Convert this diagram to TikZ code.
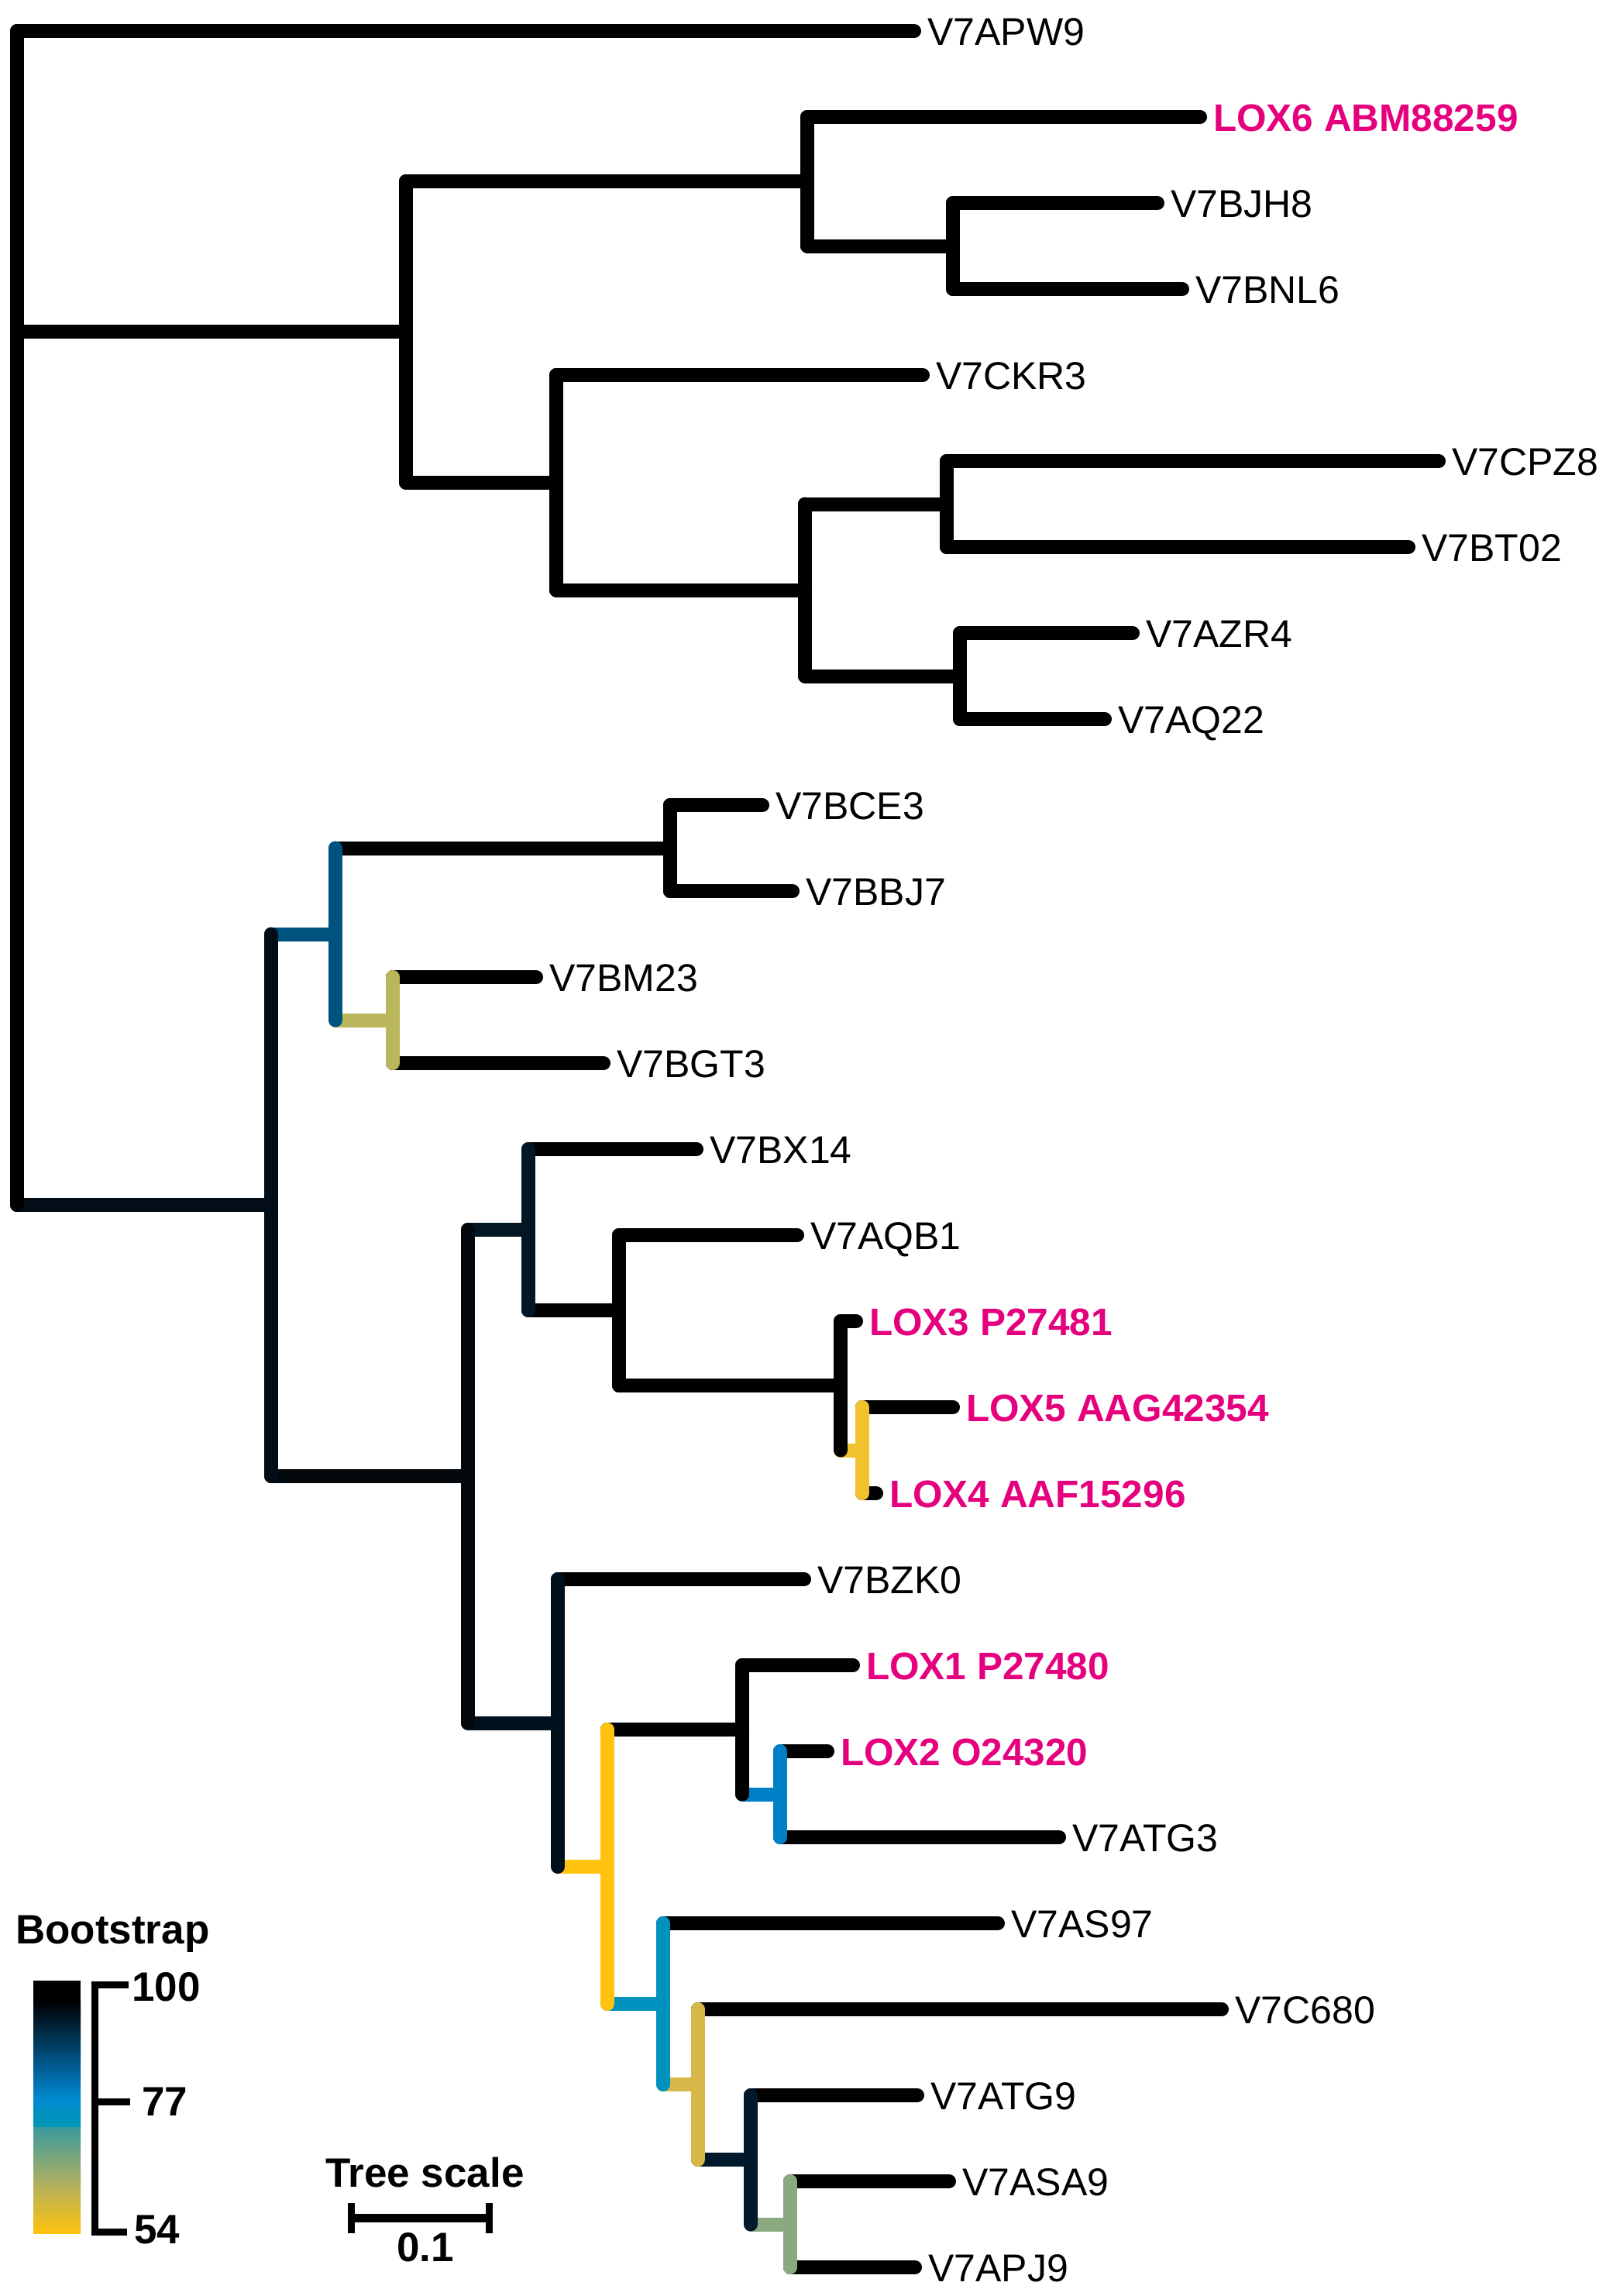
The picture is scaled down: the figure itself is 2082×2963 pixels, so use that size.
\documentclass[tikz,border=0pt]{standalone}
\usepackage{fontspec}
\setmainfont{Liberation Sans}
\definecolor{lox}{HTML}{E5007D}
\definecolor{cB}{HTML}{020D18}
\definecolor{cBone}{HTML}{00537E}
\definecolor{cBoneb}{HTML}{B9B65C}
\definecolor{cBtwo}{HTML}{03080D}
\definecolor{cC}{HTML}{021624}
\definecolor{cCfour}{HTML}{F2C12E}
\definecolor{cD}{HTML}{000F1C}
\definecolor{cE}{HTML}{FFC20E}
\definecolor{cFtwo}{HTML}{0080C6}
\definecolor{cG}{HTML}{0092BE}
\definecolor{cH}{HTML}{D9B84A}
\definecolor{cI}{HTML}{001A2B}
\definecolor{cJ}{HTML}{8AA981}
\definecolor{gA}{HTML}{004A78}
\definecolor{gB}{HTML}{0088D0}
\definecolor{gC}{HTML}{0098B4}
\definecolor{gD}{HTML}{3A9A9C}
\definecolor{gE}{HTML}{B0B060}
\definecolor{gF}{HTML}{FFC20E}
\tikzset{
  br/.style={line width=18pt, line cap=round, draw=black},
  lab/.style={anchor=base west, inner sep=0pt, font=\fontsize{50}{60}\selectfont},
  loxlab/.style={lab, text=lox, font=\fontsize{49.5}{60}\selectfont\bfseries},
  leg/.style={anchor=base west, inner sep=0pt, font=\fontsize{53}{63}\selectfont\bfseries},
  legline/.style={line width=9pt, line cap=butt, line join=miter}
}
\begin{document}
\begin{tikzpicture}[x=1pt,y=-1pt]
\useasboundingbox (0,0) rectangle (2082,2963);
% internal nodes
\coordinate (nR)    at (22,40);
\coordinate (nRb)   at (22,1555);
\coordinate (nA)    at (524,428.4);
\coordinate (nA1)   at (1042,234);
\coordinate (nA1b)  at (1230,317.5);
\coordinate (nA2)   at (718,622.75);
\coordinate (nA2b)  at (1039,761.5);
\coordinate (nA2b1) at (1222,650.5);
\coordinate (nA2b2) at (1239,872.5);
\coordinate (nB)    at (350,1555);
\coordinate (nB1)   at (433,1205.5);
\coordinate (nB1a)  at (865,1094.5);
\coordinate (nB1b)  at (507,1316.5);
\coordinate (nB2)   at (604,1905);
\coordinate (nC)    at (682,1587);
\coordinate (nC2)   at (799,1691);
\coordinate (nC3)   at (1085,1788);
\coordinate (nC4)   at (1113,1871.5);
\coordinate (nD)    at (720,2223.5);
\coordinate (nE)    at (784,2409);
\coordinate (nF)    at (958,2232);
\coordinate (nF2)   at (1007,2315.5);
\coordinate (nG)    at (856,2586);
\coordinate (nH)    at (901,2690);
\coordinate (nI)    at (969,2787);
\coordinate (nJ)    at (1020,2870.5);
% leaf ends
\coordinate (l0)  at (1180,40);
\coordinate (l1)  at (1549,151);
\coordinate (l2)  at (1494,262);
\coordinate (l3)  at (1526,373);
\coordinate (l4)  at (1191,484);
\coordinate (l5)  at (1857,595);
\coordinate (l6)  at (1818,706);
\coordinate (l7)  at (1462,817);
\coordinate (l8)  at (1426,928);
\coordinate (l9)  at (984,1039);
\coordinate (l10) at (1023,1150);
\coordinate (l11) at (692,1261);
\coordinate (l12) at (779,1372);
\coordinate (l13) at (899,1483);
\coordinate (l14) at (1029,1594);
\coordinate (l15) at (1105,1705);
\coordinate (l16) at (1230,1816);
\coordinate (l17) at (1131,1927);
\coordinate (l18) at (1038,2038);
\coordinate (l19) at (1101,2149);
\coordinate (l20) at (1068,2260);
\coordinate (l21) at (1367,2371);
\coordinate (l22) at (1288,2482);
\coordinate (l23) at (1577,2593);
\coordinate (l24) at (1184,2704);
\coordinate (l25) at (1225,2815);
\coordinate (l26) at (1181,2926);
% horizontal branches (leaves, black)
\draw[br] (nR |- l0) -- (l0);
\draw[br] (nA1 |- l1) -- (l1);
\draw[br] (nA1b |- l2) -- (l2);
\draw[br] (nA1b |- l3) -- (l3);
\draw[br] (nA2 |- l4) -- (l4);
\draw[br] (nA2b1 |- l5) -- (l5);
\draw[br] (nA2b1 |- l6) -- (l6);
\draw[br] (nA2b2 |- l7) -- (l7);
\draw[br] (nA2b2 |- l8) -- (l8);
\draw[br] (nB1a |- l9) -- (l9);
\draw[br] (nB1a |- l10) -- (l10);
\draw[br] (nB1b |- l11) -- (l11);
\draw[br] (nB1b |- l12) -- (l12);
\draw[br] (nC |- l13) -- (l13);
\draw[br] (nC2 |- l14) -- (l14);
\draw[br] (nC3 |- l15) -- (l15);
\draw[br] (nC4 |- l16) -- (l16);
\draw[br] (nC4 |- l17) -- (l17);
\draw[br] (nD |- l18) -- (l18);
\draw[br] (nF |- l19) -- (l19);
\draw[br] (nF2 |- l20) -- (l20);
\draw[br] (nF2 |- l21) -- (l21);
\draw[br] (nG |- l22) -- (l22);
\draw[br] (nH |- l23) -- (l23);
\draw[br] (nI |- l24) -- (l24);
\draw[br] (nJ |- l25) -- (l25);
\draw[br] (nJ |- l26) -- (l26);
% horizontal branches (internal)
\draw[br] (nR |- nA) -- (nA);
\draw[br] (nA |- nA1) -- (nA1);
\draw[br] (nA1 |- nA1b) -- (nA1b);
\draw[br] (nA |- nA2) -- (nA2);
\draw[br] (nA2 |- nA2b) -- (nA2b);
\draw[br] (nA2b |- nA2b1) -- (nA2b1);
\draw[br] (nA2b |- nA2b2) -- (nA2b2);
\draw[br, draw=cB] (nR |- nB) -- (nB);
\draw[br, draw=cBone] (nB |- nB1) -- (nB1);
\draw[br] (nB1 |- nB1a) -- (nB1a);
\draw[br, draw=cBoneb] (nB1 |- nB1b) -- (nB1b);
\draw[br, draw=cBtwo] (nB |- nB2) -- (nB2);
\draw[br, draw=cC] (nB2 |- nC) -- (nC);
\draw[br] (nC |- nC2) -- (nC2);
\draw[br] (nC2 |- nC3) -- (nC3);
\draw[br, draw=cCfour] (nC3 |- nC4) -- (nC4);
\draw[br, draw=cD] (nB2 |- nD) -- (nD);
\draw[br, draw=cE] (nD |- nE) -- (nE);
\draw[br] (nE |- nF) -- (nF);
\draw[br, draw=cFtwo] (nF |- nF2) -- (nF2);
\draw[br, draw=cG] (nE |- nG) -- (nG);
\draw[br, draw=cH] (nG |- nH) -- (nH);
\draw[br, draw=cI] (nH |- nI) -- (nI);
\draw[br, draw=cJ] (nI |- nJ) -- (nJ);
% vertical lines
\draw[br] (nR) -- (nRb);
\draw[br] (nA |- nA1) -- (nA |- nA2);
\draw[br] (nA1 |- l1) -- (nA1 |- nA1b);
\draw[br] (nA1b |- l2) -- (nA1b |- l3);
\draw[br] (nA2 |- l4) -- (nA2 |- nA2b);
\draw[br] (nA2b |- nA2b1) -- (nA2b |- nA2b2);
\draw[br] (nA2b1 |- l5) -- (nA2b1 |- l6);
\draw[br] (nA2b2 |- l7) -- (nA2b2 |- l8);
\draw[br, draw=cB] (nB |- nB1) -- (nB |- nB2);
\draw[br, draw=cBone] (nB1 |- nB1a) -- (nB1 |- nB1b);
\draw[br] (nB1a |- l9) -- (nB1a |- l10);
\draw[br, draw=cBoneb] (nB1b |- l11) -- (nB1b |- l12);
\draw[br, draw=cBtwo] (nB2 |- nC) -- (nB2 |- nD);
\draw[br, draw=cC] (nC |- l13) -- (nC |- nC2);
\draw[br] (nC2 |- l14) -- (nC2 |- nC3);
\draw[br] (nC3 |- l15) -- (nC3 |- nC4);
\draw[br, draw=cCfour] (nC4 |- l16) -- (nC4 |- l17);
\draw[br, draw=cD] (nD |- l18) -- (nD |- nE);
\draw[br, draw=cE] (nE |- nF) -- (nE |- nG);
\draw[br] (nF |- l19) -- (nF |- nF2);
\draw[br, draw=cFtwo] (nF2 |- l20) -- (nF2 |- l21);
\draw[br, draw=cG] (nG |- l22) -- (nG |- nH);
\draw[br, draw=cH] (nH |- l23) -- (nH |- nI);
\draw[br, draw=cI] (nI |- l24) -- (nI |- nJ);
\draw[br, draw=cJ] (nJ |- l25) -- (nJ |- l26);
% leaf labels
\node[lab]    (t0)  at ([shift={(17,18)}]l0)  {V7APW9};
\node[loxlab] (t1)  at ([shift={(17,18)}]l1)  {LOX6 ABM88259};
\node[lab]    (t2)  at ([shift={(17,18)}]l2)  {V7BJH8};
\node[lab]    (t3)  at ([shift={(17,18)}]l3)  {V7BNL6};
\node[lab]    (t4)  at ([shift={(17,18)}]l4)  {V7CKR3};
\node[lab]    (t5)  at ([shift={(17,18)}]l5)  {V7CPZ8};
\node[lab]    (t6)  at ([shift={(17,18)}]l6)  {V7BT02};
\node[lab]    (t7)  at ([shift={(17,18)}]l7)  {V7AZR4};
\node[lab]    (t8)  at ([shift={(17,18)}]l8)  {V7AQ22};
\node[lab]    (t9)  at ([shift={(17,18)}]l9)  {V7BCE3};
\node[lab]    (t10) at ([shift={(17,18)}]l10) {V7BBJ7};
\node[lab]    (t11) at ([shift={(17,18)}]l11) {V7BM23};
\node[lab]    (t12) at ([shift={(17,18)}]l12) {V7BGT3};
\node[lab]    (t13) at ([shift={(17,18)}]l13) {V7BX14};
\node[lab]    (t14) at ([shift={(17,18)}]l14) {V7AQB1};
\node[loxlab] (t15) at ([shift={(17,18)}]l15) {LOX3 P27481};
\node[loxlab] (t16) at ([shift={(17,18)}]l16) {LOX5 AAG42354};
\node[loxlab] (t17) at ([shift={(17,18)}]l17) {LOX4 AAF15296};
\node[lab]    (t18) at ([shift={(17,18)}]l18) {V7BZK0};
\node[loxlab] (t19) at ([shift={(17,18)}]l19) {LOX1 P27480};
\node[loxlab] (t20) at ([shift={(17,18)}]l20) {LOX2 O24320};
\node[lab]    (t21) at ([shift={(17,18)}]l21) {V7ATG3};
\node[lab]    (t22) at ([shift={(17,18)}]l22) {V7AS97};
\node[lab]    (t23) at ([shift={(17,18)}]l23) {V7C680};
\node[lab]    (t24) at ([shift={(17,18)}]l24) {V7ATG9};
\node[lab]    (t25) at ([shift={(17,18)}]l25) {V7ASA9};
\node[lab]    (t26) at ([shift={(17,18)}]l26) {V7APJ9};
% legend: bootstrap gradient
\node[leg] (boot) at (20,2508) {Bootstrap};
\fill[black] (43,2556) rectangle (104,2584);
\shade[top color=black, bottom color=gA] (43,2583) rectangle (104,2651);
\shade[top color=gA, bottom color=gB] (43,2650) rectangle (104,2708);
\shade[top color=gB, bottom color=gC] (43,2707) rectangle (104,2746);
\shade[top color=gD, bottom color=gE] (43,2745) rectangle (104,2818);
\shade[top color=gE, bottom color=gF] (43,2817) rectangle (104,2882);
\coordinate (bkT) at (122,2561);
\coordinate (bkB) at (122,2880);
\coordinate (bkM) at (122,2712);
\draw[legline] (166,2561) -- (bkT) -- (bkB) -- (164,2880);
\draw[legline] (bkM) -- (168,2712);
\node[leg] (v100) at (170,2582) {100};
\node[leg] (v77)  at (183,2730) {77};
\node[leg] (v54)  at (173,2895) {54};
% tree scale
\node[leg] (ts) at (420,2822) {Tree scale};
\coordinate (sL) at (453,2862);
\coordinate (sR) at (631,2862);
\draw[line width=11pt] (sL) -- (sR);
\draw[line width=9pt] ([yshift=19]sL) -- ([yshift=-20]sL);
\draw[line width=9pt] ([yshift=19]sR) -- ([yshift=-20]sR);
\node[leg] (sv) at (512,2918) {0.1};
\end{tikzpicture}
\end{document}
